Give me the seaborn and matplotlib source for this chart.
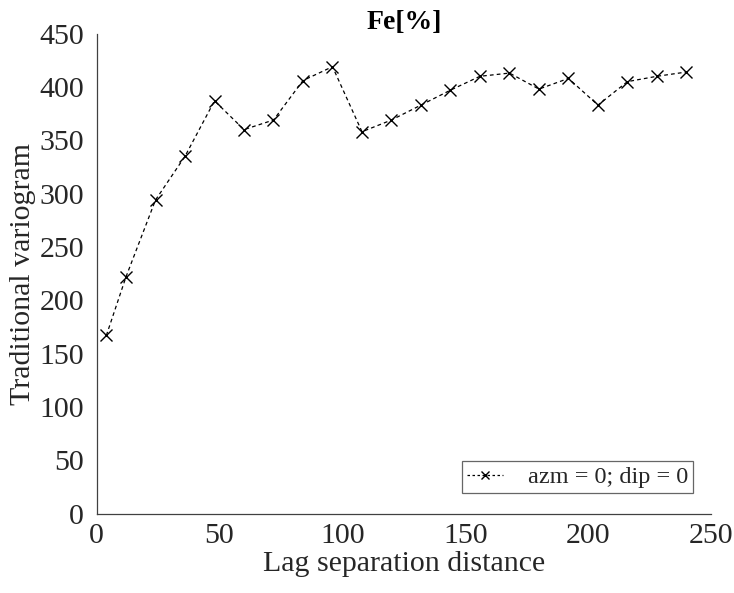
import numpy as np
import pandas as pd
import matplotlib
matplotlib.use("Agg")
import matplotlib.pyplot as plt
import seaborn as sns

lags = [4, 12, 24, 36, 48, 60, 72, 84, 96, 108, 120, 132, 144, 156, 168, 180, 192, 204, 216, 228, 240]
gamma = [167, 222, 294, 335, 387, 360, 369, 406, 419, 358, 369, 383, 397, 410, 413, 398, 408, 383, 405, 410, 414]
series_label = "azm = 0; dip = 0"
xticks = [0, 50, 100, 150, 200, 250]
yticks = [0, 50, 100, 150, 200, 250, 300, 350, 400, 450]

sns.set_theme(style="white")
plt.rcParams['font.family'] = ['Liberation Serif', 'DejaVu Serif']

df = pd.DataFrame({"lag": lags, "gamma": gamma, "series": series_label})

fig = plt.figure(figsize=(7.34, 5.93), dpi=100)
ax = fig.add_axes([0.1315, 0.134, 0.8372, 0.8093])

sns.lineplot(data=df, x="lag", y="gamma", ax=ax, color="black", linestyle=(0, (3, 2.5)),
             linewidth=0.9, marker="x", markersize=8, markeredgewidth=1.0,
             markeredgecolor="black", label=series_label)

ax.set_xlim(0, 250)
ax.set_ylim(0, 450)
ax.set_xticks(xticks)
ax.set_yticks(yticks)
ax.tick_params(axis="both", direction="in", length=5, width=0.8, color="#404040",
               labelsize=21.5, labelcolor="#262626")
ax.tick_params(axis="x", pad=7)
ax.tick_params(axis="y", pad=9)
for s in ["top", "right"]:
    ax.spines[s].set_visible(False)
for s in ["left", "bottom"]:
    ax.spines[s].set_color("#404040")
    ax.spines[s].set_linewidth(0.9)

ax.set_xlabel("Lag separation distance", fontsize=21.5, color="#262626", labelpad=1)
ax.set_ylabel("Traditional variogram", fontsize=21.5, color="#262626", labelpad=2.5)
ax.set_title("Fe[%]", fontsize=20, fontweight="bold", color="black", pad=3)

leg = ax.legend(loc="lower right", bbox_to_anchor=(0.971, 0.043), fontsize=17.5, frameon=True,
                fancybox=False, handlelength=1.45, handletextpad=1.05, borderpad=0.2,
                borderaxespad=0)
leg.get_frame().set_edgecolor("#404040")
leg.get_frame().set_linewidth(0.9)
for h in leg.legend_handles:
    h.set_markersize(5.5)
    h.set_linestyle((0, (2, 2)))

fig.savefig("out.png", dpi=100)
